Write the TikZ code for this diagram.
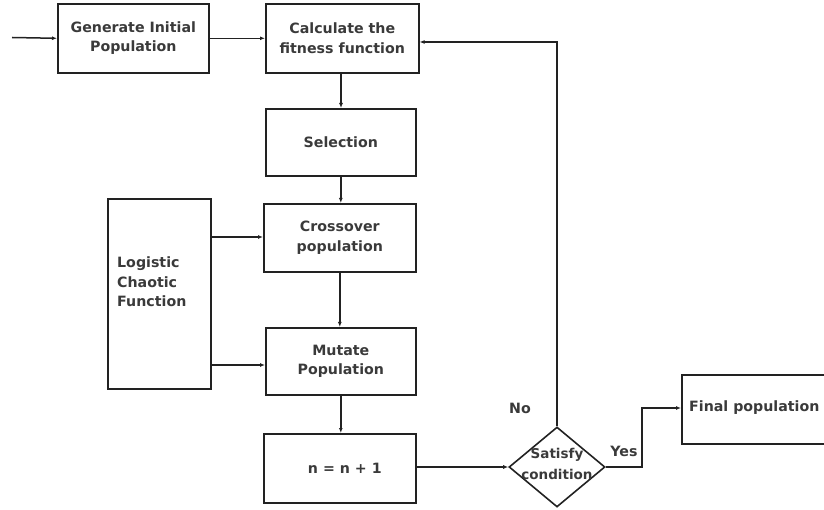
\documentclass[tikz,border=0pt]{standalone}
\usepackage{fontspec}
\setmainfont{DejaVu Sans}
\usetikzlibrary{arrows.meta,shapes.geometric}
\definecolor{ink}{HTML}{222222}
\definecolor{txt}{HTML}{3A3A3A}
\begin{document}
\begin{tikzpicture}[x=1pt,y=-1pt,
  every node/.style={font=\bfseries\fontsize{14.2}{19.5}\selectfont, text=txt},
  box/.style={draw=ink, line width=1.6pt, inner sep=0pt, anchor=north west},
  arr/.style={draw=ink, line width=1.5pt, -{Latex[length=5pt,width=4pt]}}]
\useasboundingbox (0,0) rectangle (824,510);
% boxes
\node[box, minimum width=151pt, minimum height=69pt, align=center] (gen) at (57,3) {Generate Initial\\Population};
\node[box, minimum width=153pt, minimum height=69pt, align=center] (calc) at (265,3) {Calculate the\\fitness function};
\node[box, minimum width=150pt, minimum height=67pt] (sel) at (265,108) {Selection};
\node[box, minimum width=152pt, minimum height=68pt, align=center] (cross) at (263,203) {Crossover\\population};
\node[box, minimum width=103pt, minimum height=190pt] (logi) at (107,198) {};
\node[anchor=west, align=left, inner sep=0pt] (logitxt) at (117,282) {Logistic\\Chaotic\\Function};
\node[box, minimum width=150pt, minimum height=67pt, align=center] (mut) at (265,327) {Mutate\\Population};
\node[box, minimum width=152pt, minimum height=69pt] (inc) at (263,433) {\hspace{10pt}n = n + 1};
\node[draw=ink, line width=1.6pt, diamond, minimum width=96pt, minimum height=80pt, inner sep=0pt] (dec) at (557,467) {};
\node[align=center, inner sep=0pt, font=\bfseries\fontsize{13.5}{21}\selectfont] (dectxt) at (557,464) {Satisfy\\condition};
\node[box, minimum width=160pt, minimum height=69pt] (fin) at (681,374) {};
\node[anchor=west, inner sep=0pt] (fintxt) at (689,408) {Final population};
\node (no) at (520,408) {No};
\node (yes) at (624,451) {Yes};
% connectors
\coordinate (start) at (12,37.5);
\draw[arr] (start) -- (gen.west);
\draw[arr] (gen.east) -- (calc.west);
\draw[arr] (calc.south -| 341,0) -- (sel.north -| 341,0);
\draw[arr] (sel.south) -- (sel.south |- cross.north);
\draw[arr] (cross.south) -- (cross.south |- mut.north);
\draw[arr] (mut.south) -- (mut.south |- inc.north);
\draw[arr] (logi.east |- 0,237) -- (cross.west |- 0,237);
\draw[arr] (logi.east |- 0,365) -- (mut.west |- 0,365);
\draw[arr] (inc.east |- dec.west) -- (dec.west);
\draw[arr] (dec.north) -- (dec.north |- 0,42) -- (calc.east |- 0,42);
\draw[arr] (dec.east) -- (642,467) -- (642,408) -- (fin.west |- 0,408);
\end{tikzpicture}
\end{document}
